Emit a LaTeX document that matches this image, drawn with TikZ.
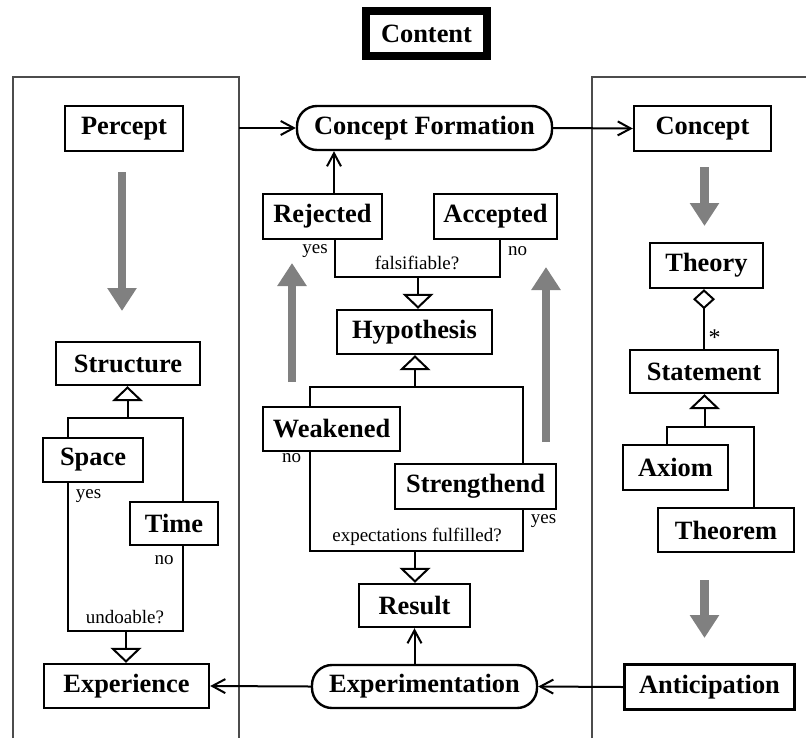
\documentclass[tikz,border=0pt]{standalone}
\usepackage{fontspec}
\setmainfont{Liberation Serif}
\usetikzlibrary{arrows.meta}
\begin{document}
\begin{tikzpicture}[x=0.5pt,y=-0.5pt,
  box/.style={draw,line width=1.2pt,inner sep=0pt,font=\fontsize{13.2pt}{15pt}\selectfont\bfseries},
  activity/.style={box,rounded corners=10pt},
  lbl/.style={inner sep=0pt,font=\fontsize{9.5pt}{11pt}\selectfont},
  link/.style={line width=1pt},
  flow/.style={link,-{Straight Barb[length=6.5pt,width=7pt,line width=1pt]}},
  gen/.style={link,-{Triangle[open,length=7.5pt,width=15.5pt,line width=1pt]}},
  agg/.style={link,{Diamond[open,length=10pt,width=11pt,line width=1pt]}-},
  bigarrow/.style={draw=black!50,line width=4.3pt,-{Triangle[length=11.5pt,width=14pt]},fill=black!50},
  panel/.style={draw=black!70,line width=0.7pt}
]
\useasboundingbox (0,0) rectangle (806,738);

% panels
\draw[panel] (13,738) -- (13,77) -- (239,77) -- (239,738);
\draw[panel] (592,738) -- (592,77) -- (806,77);

% title
\node[draw,line width=4pt,inner sep=0pt,minimum width=60.5pt,minimum height=22.5pt,
      font=\fontsize{13.2pt}{15pt}\selectfont\bfseries] (content) at (426.5,33.5) {Content};

% nodes
\node[box,minimum width=59pt,minimum height=22.5pt] (percept) at (124,128.5) {Percept};
\node[activity,minimum width=127.5pt,minimum height=22pt] (cf) at (424.5,128) {Concept Formation};
\node[box,minimum width=68.5pt,minimum height=22.5pt] (concept) at (702.5,128.5) {Concept};

\node[box,minimum width=59.5pt,minimum height=22.5pt] (rejected) at (322.5,216.5) {Rejected};
\node[box,minimum width=61.5pt,minimum height=22.5pt] (accepted) at (495.5,216.5) {Accepted};
\node[box,minimum width=77.5pt,minimum height=22pt] (hypothesis) at (414.5,332) {Hypothesis};
\node[box,minimum width=68.5pt,minimum height=22pt] (weakened) at (331.5,429) {Weakened};
\node[box,minimum width=80.5pt,minimum height=22.5pt] (strengthend) at (475.5,486.5) {Strengthend};
\node[box,minimum width=55.5pt,minimum height=21.5pt] (result) at (414.5,605.5) {Result};
\node[activity,minimum width=112.5pt,minimum height=21.5pt] (experimentation) at (424.5,686.5) {Experimentation};

\node[box,minimum width=72pt,minimum height=21.5pt] (structure) at (128,363.5) {Structure};
\node[box,minimum width=50pt,minimum height=22pt] (space) at (93,460) {Space};
\node[box,minimum width=44pt,minimum height=21.5pt] (time) at (174,523.5) {Time};
\node[box,minimum width=82.5pt,minimum height=22pt] (experience) at (126.5,686) {Experience};

\node[box,minimum width=56.5pt,minimum height=22.5pt] (theory) at (706.5,265.5) {Theory};
\node[box,minimum width=74pt,minimum height=21.5pt] (statement) at (704,371.5) {Statement};
\node[box,minimum width=52.5pt,minimum height=22.5pt] (axiom) at (675.5,467.5) {Axiom};
\node[box,minimum width=68pt,minimum height=22pt] (theorem) at (726,530) {Theorem};
\node[box,minimum width=85pt,minimum height=22.5pt] (anticipation) at (709.5,687) {Anticipation};

% junction points
\coordinate (lpedge) at (239,128);
\coordinate (fals) at (418,277);
\coordinate (hj) at (415,387);
\coordinate (ej) at (415,551);
\coordinate (sj) at (127.5,418);
\coordinate (uj) at (126,631);
\coordinate (tj) at (704.5,427);

% main flow
\draw[flow] (lpedge) -- (cf.west);
\draw[flow] (cf.east) -- (concept.west);
\draw[flow] ([xshift=5.75pt]rejected.north) -- ([xshift=5.75pt]rejected.north |- cf.south);
\draw[flow] (experimentation.north -| result) -- (result.south);
\draw[flow] (anticipation.west) -- (experimentation.east);
\draw[flow] (experimentation.west) -- (experience.east);

% falsifiable?
\draw[link] ([xshift=6.25pt]rejected.south) |- (fals) -| ([xshift=2.25pt]accepted.south);
\draw[gen] (fals) -- (fals |- hypothesis.north);
\node[lbl] (fyes) at (315,251) {yes};
\node[lbl] (fno) at (517.5,251) {no};
\node[lbl] (fq) at (417,263) {falsifiable?};

% hypothesis refinement
\draw[link] ([xshift=-10.75pt]weakened.north) |- (hj) -| ([xshift=23.75pt]strengthend.north);
\draw[gen] (hj) -- (hj |- hypothesis.south);

% expectations fulfilled?
\draw[link] ([xshift=-10.75pt]weakened.south) |- (ej) -| ([xshift=23.75pt]strengthend.south);
\draw[gen] (ej) -- (ej |- result.north);
\node[lbl] (eno) at (291.5,458) {no};
\node[lbl] (eyes) at (543.5,521) {yes};
\node[lbl] (eq) at (417,537) {expectations fulfilled?};

% structure
\draw[link] ([xshift=-12.5pt]space.north) |- (sj) -| ([xshift=4.5pt]time.north);
\draw[gen] (sj) -- (sj |- structure.south);
\draw[link] ([xshift=-12.5pt]space.south) |- (uj) -| ([xshift=4.5pt]time.south);
\draw[gen] (uj) -- (uj |- experience.north);
\node[lbl] (uyes) at (88.5,496) {yes};
\node[lbl] (uno) at (164,560) {no};
\node[lbl] (uq) at (125,617) {undoable?};

% theory
\draw[agg] (statement.north |- theory.south) -- (statement.north);
\node[lbl,font=\fontsize{12pt}{12pt}\selectfont] (mult) at (714.5,338) {*};
\draw[link] ([xshift=-4.25pt]axiom.north) |- (tj) -| ([xshift=14pt]theorem.north);
\draw[gen] (tj) -- (tj |- statement.south);

% transitions
\coordinate (ga1) at (122,172);   \coordinate (gb1) at (122,311);
\coordinate (ga2) at (292,382);   \coordinate (gb2) at (292,263);
\coordinate (ga3) at (546,442);   \coordinate (gb3) at (546,267);
\coordinate (ga4) at (704.5,167); \coordinate (gb4) at (704.5,226);
\coordinate (ga5) at (704.5,580); \coordinate (gb5) at (704.5,638);
\foreach \i in {1,...,5} \draw[bigarrow] (ga\i) -- (gb\i);
\end{tikzpicture}
\end{document}
